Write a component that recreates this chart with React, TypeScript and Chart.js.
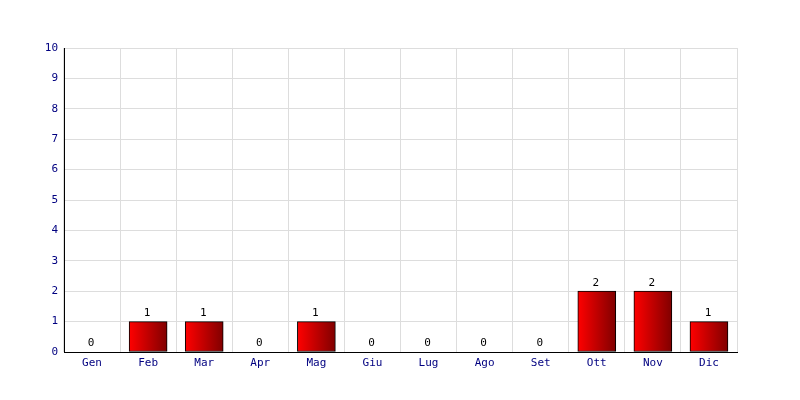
import React, { useEffect, useRef } from "react";
import { Chart, registerables } from "chart.js";

Chart.register(...registerables);

const months = ["Gen", "Feb", "Mar", "Apr", "Mag", "Giu", "Lug", "Ago", "Set", "Ott", "Nov", "Dic"];
const counts = [0, 1, 1, 0, 1, 0, 0, 0, 0, 2, 2, 1];
const yMin = 0;
const yMax = 10;

const FONT = "'DejaVu Sans Mono', monospace";
const BAR_W = 38;

const valueLabels = {
  id: "valueLabels",
  afterDatasetsDraw(chart: any) {
    const ctx = chart.ctx;
    const meta = chart.getDatasetMeta(0);
    ctx.save();
    ctx.font = `11px ${FONT}`;
    ctx.fillStyle = "#000";
    ctx.textAlign = "center";
    ctx.textBaseline = "bottom";
    meta.data.forEach((el: any, i: number) => {
      ctx.fillText(String(counts[i]), el.x - 1, el.y - 3);
    });
    ctx.restore();
  },
};

export default function App() {
  const ref = useRef<HTMLCanvasElement>(null);
  useEffect(() => {
    const canvas = ref.current!;
    const chart = new Chart(canvas, {
      type: "bar",
      data: {
        labels: months,
        datasets: [
          {
            data: counts,
            borderColor: "#000",
            borderWidth: 1,
            borderSkipped: false,
            barThickness: BAR_W,
            backgroundColor: (c: any) => {
              const ch = c.chart;
              const xs = ch.scales && ch.scales.x;
              if (!xs || c.dataIndex === undefined) return "#cc0000";
              const cx = xs.getPixelForValue(c.dataIndex);
              if (!isFinite(cx)) return "#cc0000";
              const g = ch.ctx.createLinearGradient(cx - BAR_W / 2, 0, cx + BAR_W / 2, 0);
              g.addColorStop(0, "#ff0000");
              g.addColorStop(1, "#800000");
              return g;
            },
          },
        ],
      },
      options: {
        animation: false,
        responsive: false,
        maintainAspectRatio: false,
        layout: { padding: { left: 0, top: 48, right: 63, bottom: 0 } },
        plugins: { legend: { display: false }, tooltip: { enabled: false } },
        scales: {
          x: {
            offset: true,
            grid: { color: "#dddddd", drawTicks: false, offset: true },
            border: { color: "#000", width: 1 },
            ticks: { color: "#000080", font: { family: FONT, size: 11 }, padding: 5, maxRotation: 0 },
            afterFit: (s: any) => { s.height = 48; },
          },
          y: {
            min: yMin,
            max: yMax,
            grid: { color: "#dddddd", drawTicks: false },
            border: { color: "#000", width: 1 },
            ticks: { stepSize: 1, color: "#000080", font: { family: FONT, size: 11 }, padding: 6 },
            afterFit: (s: any) => { s.width = 64; },
          },
        },
      },
      plugins: [valueLabels],
    });
    return () => chart.destroy();
  }, []);
  return (
    <div style={{ position: "fixed", left: 0, top: 0, width: 800, height: 400, background: "#fff" }}>
      <canvas ref={ref} width={800} height={400} style={{ width: 800, height: 400 }} />
    </div>
  );
}
